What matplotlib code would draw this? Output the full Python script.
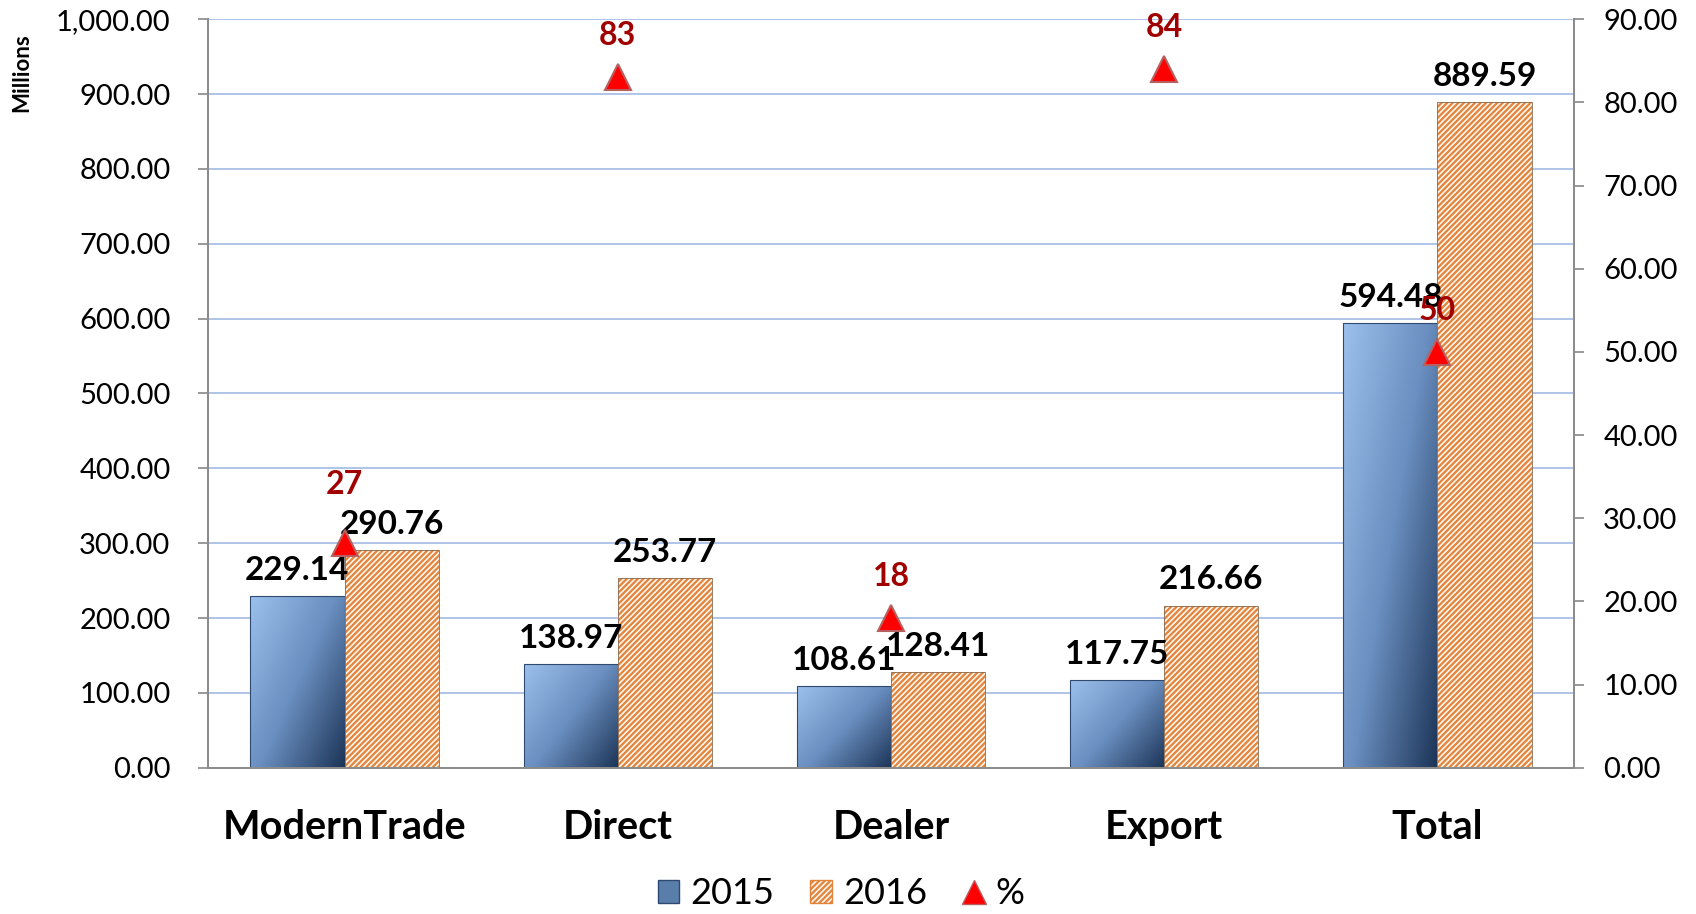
import numpy as np
import matplotlib
matplotlib.use('Agg')
import matplotlib.pyplot as plt
from matplotlib.patches import Patch, Rectangle
from matplotlib.lines import Line2D
from matplotlib.colors import LinearSegmentedColormap
from matplotlib.ticker import FuncFormatter, MultipleLocator

plt.rcParams['font.family'] = ['Lato', 'DejaVu Sans']
plt.rcParams['hatch.linewidth'] = 1.6

categories = ['ModernTrade', 'Direct', 'Dealer', 'Export', 'Total']
sales_2015 = [229.14, 138.97, 108.61, 117.75, 594.48]
sales_2016 = [290.76, 253.77, 128.41, 216.66, 889.59]
growth_pct = [27, 83, 18, 84, 50]
pct_label_offset = [42, 30, 30, 30, 30]   # points above the marker

fig = plt.figure(figsize=(16.96, 9.14), dpi=100)
ax = fig.add_axes([0.1226, 0.160, 0.8055, 0.819])
ax2 = ax.twinx()

x = np.arange(len(categories))
w = 0.345
grad_cmap = LinearSegmentedColormap.from_list('blu', ['#9cc0ec', '#6a8fc0', '#1d3558'])

# 2015 bars with gradient fill
bars15 = ax.bar(x - w / 2, sales_2015, w, color='none', edgecolor='#2e4a70', linewidth=0.8, zorder=3)
gx, gy = np.meshgrid(np.linspace(0, 1, 60), np.linspace(0, 1, 60))
for b in bars15:
    g = 0.55 * gx + 0.45 * gy
    x0, y0 = b.get_x(), b.get_y()
    im = ax.imshow(g, cmap=grad_cmap, extent=[x0, x0 + b.get_width(), y0, y0 + b.get_height()],
                   origin='upper', aspect='auto', zorder=2, vmin=0, vmax=1)
    im.set_clip_path(Rectangle((x0, y0), b.get_width(), b.get_height(), transform=ax.transData))

bars16 = ax.bar(x + w / 2, sales_2016, w, color='#fff5ec', edgecolor='#e2843c', hatch='//////',
                linewidth=0, zorder=3)
ax.bar(x + w / 2, sales_2016, w, color='none', edgecolor='#8a6a50', linewidth=0.6, zorder=4)

for xi, v in zip(x - w / 2, sales_2015):
    ax.annotate('%.2f' % v, (xi, v), xytext=(0, 8), textcoords='offset points',
                ha='center', va='bottom', fontsize=24, fontweight='bold', zorder=6)
for xi, v in zip(x + w / 2, sales_2016):
    ax.annotate('%.2f' % v, (xi, v), xytext=(0, 8), textcoords='offset points',
                ha='center', va='bottom', fontsize=24, fontweight='bold', zorder=6)

ax.set_xlim(-0.5, 4.5)
ax.set_ylim(0, 1000)
ax.yaxis.set_major_locator(MultipleLocator(100))
ax.yaxis.set_major_formatter(FuncFormatter(lambda v, p: '{:,.2f}'.format(v)))
ax.set_xticks(x)
ax.set_xticklabels(categories, fontsize=28.5, fontweight='bold')
ax.tick_params(axis='x', length=0, pad=30)
ax.tick_params(axis='y', labelsize=21, length=7, width=1.2, color='#888888', pad=20)
ax.grid(axis='y', color='#a9bfe6', linewidth=1.3, zorder=0)
ax.set_axisbelow(True)

for a in (ax, ax2):
    a.spines['top'].set_visible(False)
    for s in ('left', 'right', 'bottom'):
        a.spines[s].set_color('#8c8c8c')
        a.spines[s].set_linewidth(1.4)

ax2.set_ylim(0, 90)
ax2.yaxis.set_major_locator(MultipleLocator(10))
ax2.yaxis.set_major_formatter(FuncFormatter(lambda v, p: '%.2f' % v))
ax2.tick_params(axis='y', labelsize=21, length=7, width=1.2, color='#888888', pad=14)
ax2.plot(x, growth_pct, linestyle='none', marker='^', markersize=19, color='#ff0000',
         markeredgecolor='#b86060', markeredgewidth=1.5, zorder=7)
for xi, v, off in zip(x, growth_pct, pct_label_offset):
    ax2.annotate('%d' % v, (xi, v), xytext=(0, off), textcoords='offset points',
                 ha='center', va='center', fontsize=23, fontweight='bold', color='#a00000', zorder=8)

fig.text(0.013, 0.921, 'Millions', rotation=90, ha='center', va='center', fontsize=16, fontweight='bold')

handles = [
    Patch(facecolor='#5a7eaa', edgecolor='#2e4a70', label='2015'),
    Patch(facecolor='#fff5ec', edgecolor='#e2843c', hatch='//////', label='2016'),
    Line2D([], [], linestyle='none', marker='^', markersize=17, color='#ff0000',
           markeredgecolor='#b86060', label='%'),
]
fig.legend(handles=handles, loc='center', bbox_to_anchor=(0.496, 0.022), ncol=3, frameon=False,
           fontsize=26, handlelength=0.6, handleheight=0.6, handletextpad=0.3, columnspacing=1.0)

fig.savefig('out.png', dpi=100)
